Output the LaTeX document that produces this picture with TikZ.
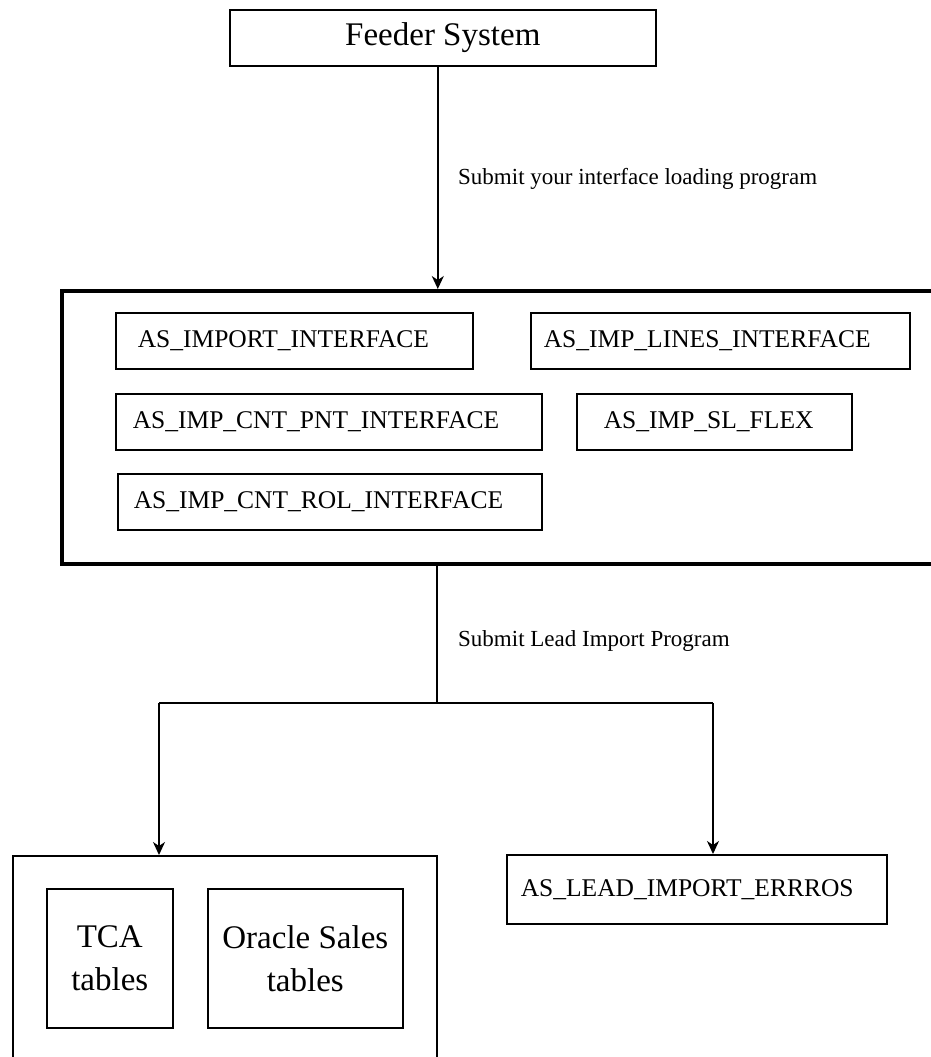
\documentclass[tikz,border=0pt]{standalone}
\usepackage{fontspec}
\setmainfont{Liberation Serif}
\usetikzlibrary{arrows.meta}
\begin{document}
\begin{tikzpicture}[x=1pt,y=-1pt,
  tbox/.style={draw, line width=1.6pt, anchor=north west, inner ysep=0pt, align=left,
    font=\fontsize{25.5}{30}\selectfont},
  bigfont/.style={font=\fontsize{33}{43}\selectfont},
  lbl/.style={anchor=base west, inner sep=0pt, font=\fontsize{23}{27}\selectfont},
  conn/.style={line width=1.5pt},
  arr/.style={line width=1.5pt, -{Stealth[length=13pt,width=12pt,inset=4pt]}}]
\clip (0,0) rectangle (931,1057);
\fill[white] (0,0) rectangle (931,1057);
% top
\node[draw, line width=1.6pt, anchor=north west, minimum width=426pt, minimum height=56pt, inner sep=0pt, bigfont] (feeder) at (229,9) {Feeder System};
% staging area
\node[draw, line width=3.5pt, anchor=north west, minimum width=940pt, minimum height=273pt, inner sep=0pt] (stage) at (60,289) {};
\node[tbox, minimum height=56pt, inner xsep=22pt, text width=313pt] (imp) at (115,312) {AS\_IMPORT\_INTERFACE};
\node[tbox, minimum height=56pt, inner xsep=13pt, text width=353pt] (lines) at (530,312) {AS\_IMP\_LINES\_INTERFACE};
\node[tbox, minimum height=56pt, inner xsep=17pt, text width=392pt] (pnt) at (115,393) {AS\_IMP\_CNT\_PNT\_INTERFACE};
\node[tbox, minimum height=56pt, inner xsep=27pt, text width=221pt] (flex) at (576,393) {AS\_IMP\_SL\_FLEX};
\node[tbox, minimum height=56pt, inner xsep=16pt, text width=392pt] (rol) at (117,473) {AS\_IMP\_CNT\_ROL\_INTERFACE};
% arrow 1
\draw[arr] ([xshift=-5pt]feeder.south) -- ([xshift=-5pt]feeder.south |- stage.north);
\node[lbl] (l1) at (458,184) {Submit your interface loading program};
% bottom
\node[draw, line width=1.6pt, anchor=north west, minimum width=424pt, minimum height=300pt, inner sep=0pt] (dbox) at (12,855) {};
\node[draw, line width=1.6pt, anchor=north west, minimum width=126pt, minimum height=139pt, inner sep=0pt, align=center, bigfont] (tca) at (46,888) {TCA\\tables};
\node[draw, line width=1.6pt, anchor=north west, minimum width=195pt, minimum height=139pt, inner sep=0pt, align=center, bigfont] (osales) at (207,888) {Oracle Sales\\tables};
\node[tbox, minimum height=69pt, inner xsep=14pt, text width=352pt] (err) at (506,854) {AS\_LEAD\_IMPORT\_ERRROS};
% split
\coordinate (split) at (437,703);
\coordinate (lj) at (159,703);
\coordinate (rj) at (713,703);
\draw[conn] (stage.south -| split) -- (split);
\draw[conn] (lj) -- (rj);
\draw[arr] (lj) -- (lj |- dbox.north);
\draw[arr] (rj) -- (rj |- err.north);
\node[lbl] (l2) at (458,646) {Submit Lead Import Program};
\end{tikzpicture}
\end{document}
